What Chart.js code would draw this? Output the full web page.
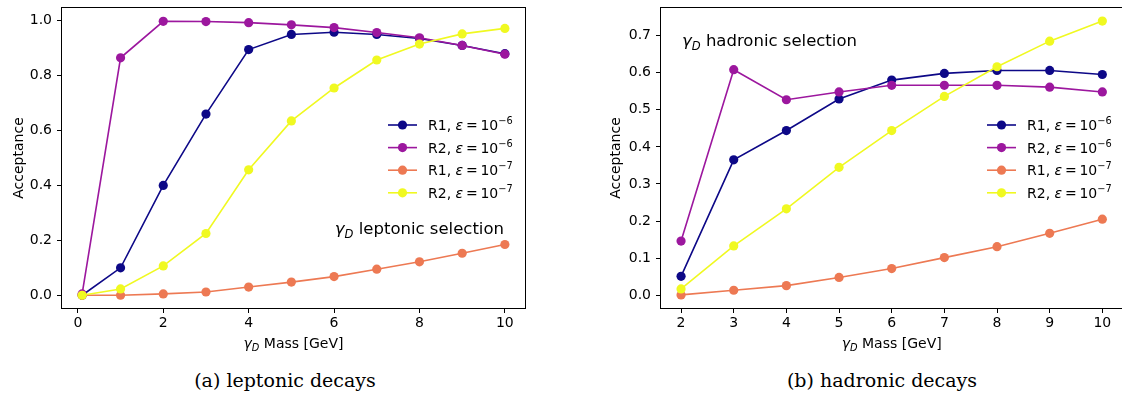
<!DOCTYPE html>
<html>
<head>
<meta charset="utf-8">
<script src="https://cdn.jsdelivr.net/npm/chart.js@4.4.1/dist/chart.umd.min.js"></script>
<style>
  body { margin: 0; background: #fff; width: 1122px; height: 394px; position: relative; overflow: hidden; }
  canvas { position: absolute; top: 0; }
  #lep { left: 0; }
  #had { left: 561px; }
  .cap { position: absolute; top: 370px; line-height: 20px; font-family: "DejaVu Serif", "Liberation Serif", serif; font-size: 19px; color: #000; transform: translateX(-50%); white-space: nowrap; }
</style>
</head>
<body>
<canvas id="lep" width="560" height="360"></canvas>
<canvas id="had" width="567" height="360"></canvas>
<div class="cap" style="left:285px">(a) leptonic decays</div>
<div class="cap" style="left:882px">(b) hadronic decays</div>
<script>
// masses (GeV)
const massLep = [0.1, 1, 2, 3, 4, 5, 6, 7, 8, 9, 10];
const massHad = [2, 3, 4, 5, 6, 7, 8, 9, 10];

// leptonic selection acceptance
const lepR1e6 = [0.0, 0.10, 0.40, 0.66, 0.895, 0.95, 0.958, 0.95, 0.935, 0.91, 0.88];
const lepR2e6 = [0.005, 0.865, 0.998, 0.997, 0.993, 0.985, 0.975, 0.957, 0.938, 0.91, 0.878];
const lepR1e7 = [0.0, 0.0, 0.005, 0.012, 0.03, 0.048, 0.068, 0.095, 0.122, 0.153, 0.185];
const lepR2e7 = [0.0, 0.023, 0.107, 0.225, 0.457, 0.635, 0.755, 0.857, 0.915, 0.952, 0.972];

// hadronic selection acceptance
const hadR1e6 = [0.051, 0.365, 0.444, 0.529, 0.58, 0.598, 0.606, 0.606, 0.595];
const hadR2e6 = [0.146, 0.608, 0.527, 0.548, 0.566, 0.566, 0.566, 0.561, 0.548];
const hadR1e7 = [0.001, 0.0135, 0.026, 0.048, 0.072, 0.1015, 0.131, 0.167, 0.205];
const hadR2e7 = [0.017, 0.133, 0.233, 0.345, 0.444, 0.536, 0.616, 0.685, 0.739];

const seriesNames = [['R1', '6'], ['R2', '6'], ['R1', '7'], ['R2', '7']];
const colors = ['#0d0887', '#9c179e', '#ed7953', '#f0f921'];

const lepTicksX = [0, 2, 4, 6, 8, 10];
const lepTicksY = [0, 0.2, 0.4, 0.6, 0.8, 1.0];
const hadTicksX = [2, 3, 4, 5, 6, 7, 8, 9, 10];
const hadTicksY = [0, 0.1, 0.2, 0.3, 0.4, 0.5, 0.6, 0.7];

const FONT = '"DejaVu Sans"';

// draw text made of pieces (italic, subscript, superscript)
function rich(ctx, parts, x, y, size, align) {
  const fonts = parts.map(p => (p.it ? 'italic ' : '') + (p.sub || p.sup ? size * 0.7 : size) + 'px ' + FONT);
  let w = 0;
  parts.forEach((p, i) => { ctx.font = fonts[i]; w += ctx.measureText(p.t).width; });
  let cx = align === 'right' ? x - w : align === 'center' ? x - w / 2 : x;
  ctx.textAlign = 'left';
  ctx.textBaseline = 'alphabetic';
  parts.forEach((p, i) => {
    ctx.font = fonts[i];
    const dy = p.sub ? size * 0.22 : p.sup ? -size * 0.42 : 0;
    ctx.fillText(p.t, cx, y + dy);
    cx += ctx.measureText(p.t).width;
  });
}

const gammaD = [{t: 'γ', it: true}, {t: 'D', it: true, sub: true}];

// no automatic room for edge labels, the plot box is placed by hand
function noPad(s) {
  s.paddingLeft = 0; s.paddingRight = 0; s.paddingTop = 0; s.paddingBottom = 0;
}

const decor = {
  id: 'decor',
  afterDraw(chart, args, o) {
    const {ctx, chartArea: a} = chart;
    ctx.save();
    ctx.strokeStyle = '#000';
    ctx.lineWidth = 1;
    ctx.strokeRect(a.left + 0.5, a.top + 0.5, a.right - a.left - 1, a.bottom - a.top - 1);
    ctx.fillStyle = '#000';

    // axis titles
    rich(ctx, gammaD.concat([{t: ' Mass [GeV]'}]), (a.left + a.right) / 2, o.xTitleY, 14, 'center');
    ctx.save();
    ctx.translate(o.yTitleX, (a.top + a.bottom) / 2);
    ctx.rotate(-Math.PI / 2);
    ctx.font = '14px ' + FONT;
    ctx.textAlign = 'center';
    ctx.textBaseline = 'middle';
    ctx.fillText('Acceptance', 0, 0);
    ctx.restore();

    // legend
    seriesNames.forEach((n, i) => {
      const y = o.legY + i * 22.6;
      ctx.strokeStyle = colors[i];
      ctx.lineWidth = 1.6;
      ctx.beginPath();
      ctx.moveTo(o.legX, y);
      ctx.lineTo(o.legX + 29, y);
      ctx.stroke();
      ctx.fillStyle = colors[i];
      ctx.beginPath();
      ctx.arc(o.legX + 14.5, y, 4.6, 0, Math.PI * 2);
      ctx.fill();
      ctx.fillStyle = '#000';
      rich(ctx, [{t: n[0] + ', '}, {t: 'ε', it: true}, {t: '\u2009=\u200910'}, {t: '\u2212' + n[1], sup: true}],
        o.legX + 40, y + 5, 14, 'left');
    });

    // selection note
    rich(ctx, gammaD.concat([{t: ' ' + o.note}]), o.noteX, o.noteY, 16.5, o.noteAlign);
    ctx.restore();
  }
};

function makeChart(id, xs, ys, p) {
  return new Chart(document.getElementById(id), {
    type: 'line',
    data: {
      datasets: ys.map((arr, i) => ({
        data: arr.map((v, k) => ({x: xs[k], y: v})),
        borderColor: colors[i],
        backgroundColor: colors[i],
        borderWidth: 1.6,
        pointRadius: 4.6,
        pointBorderWidth: 0,
        pointHoverRadius: 4.6,
        tension: 0,
        order: 4 - i
      }))
    },
    options: {
      responsive: false,
      animation: false,
      events: [],
      layout: {padding: {top: 7, right: p.padRight, left: 0, bottom: 0}},
      plugins: {legend: {display: false}, tooltip: {enabled: false}, decor: p.decor},
      scales: {
        x: {
          type: 'linear',
          min: p.xmin, max: p.xmax,
          afterBuildTicks: s => { s.ticks = p.xticks.map(v => ({value: v})); },
          afterFit: s => { s.height = 51; noPad(s); },
          grid: {drawOnChartArea: false, drawTicks: true, tickLength: 4, color: '#000', tickWidth: 1},
          border: {display: false},
          ticks: {color: '#000', font: {family: FONT, size: 14}, padding: 2, maxRotation: 0,
            callback: v => String(v)}
        },
        y: {
          min: p.ymin, max: p.ymax,
          afterBuildTicks: s => { s.ticks = p.yticks.map(v => ({value: v})); },
          afterFit: s => { s.width = p.yWidth; noPad(s); },
          grid: {drawOnChartArea: false, drawTicks: true, tickLength: 4, color: '#000', tickWidth: 1},
          border: {display: false},
          ticks: {color: '#000', font: {family: FONT, size: 14}, padding: 5,
            callback: v => v.toFixed(1)}
        }
      }
    },
    plugins: [decor]
  });
}

makeChart('lep', massLep, [lepR1e6, lepR2e6, lepR1e7, lepR2e7], {
  xmin: -0.395, xmax: 10.495, ymin: -0.05, ymax: 1.05,
  xticks: lepTicksX, yticks: lepTicksY, yWidth: 61, padRight: 34,
  decor: {xTitleY: 348, yTitleX: 19, legX: 388, legY: 125,
    note: 'leptonic selection', noteX: 504, noteY: 234, noteAlign: 'right'}
});

makeChart('had', massHad, [hadR1e6, hadR2e6, hadR1e7, hadR2e7], {
  xmin: 1.6, xmax: 10.4, ymin: -0.037, ymax: 0.777,
  xticks: hadTicksX, yticks: hadTicksY, yWidth: 99, padRight: 1,
  decor: {xTitleY: 348, yTitleX: 55, legX: 426, legY: 125,
    note: 'hadronic selection', noteX: 121, noteY: 46, noteAlign: 'left'}
});
</script>
</body>
</html>
